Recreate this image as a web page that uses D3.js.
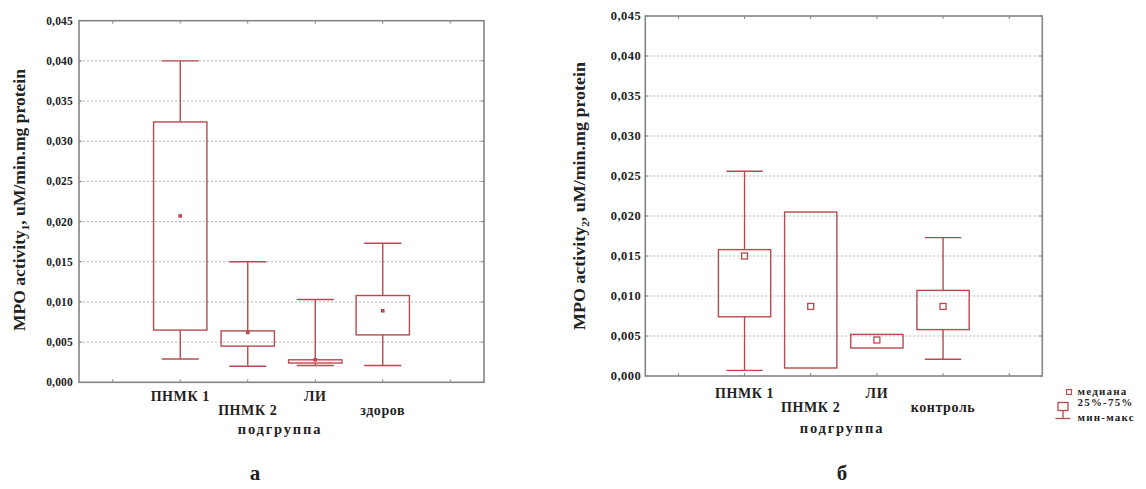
<!DOCTYPE html>
<html>
<head>
<meta charset="utf-8">
<script src="https://cdn.jsdelivr.net/npm/d3@7/dist/d3.min.js"></script>
<style>
  html, body { margin: 0; padding: 0; background: #fff; }
  svg { display: block; }
  text { font-family: "Liberation Serif", "Times New Roman", serif; font-weight: bold; fill: #222; }
</style>
</head>
<body>
<svg id="chart" width="1146" height="489"></svg>
<script>
// ---- Data ----
const yTicks = [0, 0.005, 0.010, 0.015, 0.020, 0.025, 0.030, 0.035, 0.040, 0.045];

const categoriesA = ["ПНМК 1", "ПНМК 2", "ЛИ", "здоров"];
const minA = [0.0029, 0.0020, 0.0021, 0.0021];
const q1A  = [0.0065, 0.0045, 0.0024, 0.0059];
const medA = [0.0207, 0.0062, 0.0028, 0.0089];
const q3A  = [0.0324, 0.0064, 0.0028, 0.0108];
const maxA = [0.0400, 0.0150, 0.0103, 0.0173];

const categoriesB = ["ПНМК 1", "ПНМК 2", "ЛИ", "контроль"];
const minB = [0.0007, 0.0010, 0.0035, 0.0021];
const q1B  = [0.0074, 0.0010, 0.0035, 0.0058];
const medB = [0.0150, 0.0087, 0.0045, 0.0087];
const q3B  = [0.0158, 0.0205, 0.0052, 0.0107];
const maxB = [0.0256, 0.0205, 0.0052, 0.0173];

const legendLabels = ["медиана", "25%-75%", "мин-макс"];

const BOX = "#b84a4f";
const FRAME = "#858585";
const GRID = "#b5b5b5";

const svg = d3.select("#chart");
const fmt = d => d3.format(".3f")(d).replace(".", ",");

function panel(o) {
  const g = svg.append("g");
  const slots = ["_s0"].concat(o.cats).concat(["_s5"]);
  const x = d3.scalePoint().domain(slots).range([o.left, o.right]).padding(0.5);
  const y = d3.scaleLinear().domain([0, 0.045]).range([o.bottom, o.top]);
  const step = x.step();

  // grid
  g.append("g").selectAll("line").data(yTicks.filter(t => t > 0 && t < 0.045)).join("line")
    .attr("x1", o.left).attr("x2", o.right)
    .attr("y1", d => y(d)).attr("y2", d => y(d))
    .attr("stroke", GRID).attr("stroke-width", 1).attr("stroke-dasharray", "2,2");

  // inner ticks
  const tk = g.append("g").attr("stroke", FRAME).attr("stroke-width", 1);
  tk.selectAll(".tb").data(slots).join("line")
    .attr("x1", d => x(d)).attr("x2", d => x(d)).attr("y1", o.bottom).attr("y2", o.bottom - 3);
  tk.selectAll(".tt").data(slots).join("line")
    .attr("x1", d => x(d)).attr("x2", d => x(d)).attr("y1", o.top).attr("y2", o.top + 3);
  tk.selectAll(".tl").data(yTicks).join("line")
    .attr("x1", o.left).attr("x2", o.left + 3).attr("y1", d => y(d)).attr("y2", d => y(d));
  tk.selectAll(".tr").data(yTicks).join("line")
    .attr("x1", o.right).attr("x2", o.right - 3).attr("y1", d => y(d)).attr("y2", d => y(d));

  // frame
  g.append("rect").attr("x", o.left).attr("y", o.top)
    .attr("width", o.right - o.left).attr("height", o.bottom - o.top)
    .attr("fill", "none").attr("stroke", FRAME).attr("stroke-width", 1.6);

  // y tick labels
  g.append("g").selectAll("text").data(yTicks).join("text")
    .attr("x", o.left - o.labGap).attr("y", d => y(d)).attr("dy", "0.35em")
    .attr("text-anchor", "end").attr("font-size", o.tickFont)
    .attr("letter-spacing", o.tickLS)
    .text(fmt);

  // boxes
  const boxW = step * 0.79, capW = step * 0.55;
  const bx = g.append("g").attr("stroke", BOX).attr("stroke-width", 1.4).attr("fill", "none");
  o.cats.forEach((c, i) => {
    const cx = x(c);
    if (o.max[i] > o.q3[i]) {
      bx.append("line").attr("x1", cx).attr("x2", cx).attr("y1", y(o.q3[i])).attr("y2", y(o.max[i]));
      bx.append("line").attr("x1", cx - capW / 2).attr("x2", cx + capW / 2).attr("y1", y(o.max[i])).attr("y2", y(o.max[i]));
    }
    if (o.min[i] < o.q1[i]) {
      bx.append("line").attr("x1", cx).attr("x2", cx).attr("y1", y(o.q1[i])).attr("y2", y(o.min[i]));
      bx.append("line").attr("x1", cx - capW / 2).attr("x2", cx + capW / 2).attr("y1", y(o.min[i])).attr("y2", y(o.min[i]));
    }
    bx.append("rect").attr("x", cx - boxW / 2).attr("y", y(o.q3[i]))
      .attr("width", boxW).attr("height", Math.max(1, y(o.q1[i]) - y(o.q3[i])));
    if (o.openMed) {
      bx.append("rect").attr("x", cx - 3).attr("y", y(o.med[i]) - 3).attr("width", 6).attr("height", 6)
        .attr("stroke-width", 1.3);
    } else {
      g.append("rect").attr("x", cx - 1.8).attr("y", y(o.med[i]) - 1.8).attr("width", 3.6).attr("height", 3.6)
        .attr("fill", BOX);
    }
  });

  // category labels, staggered
  g.append("g").selectAll("text").data(o.cats).join("text")
    .attr("x", d => x(d)).attr("y", (d, i) => i % 2 === 0 ? o.row1 : o.row2)
    .attr("text-anchor", "middle").attr("font-size", 14).attr("letter-spacing", 0.6)
    .text(d => d);

  // x title
  g.append("text").attr("x", o.xTitleX).attr("y", o.row3)
    .attr("text-anchor", "middle").attr("font-size", 14.5).attr("letter-spacing", 1.8)
    .text("подгруппа");

  // y title
  const yt = g.append("text")
    .attr("transform", `translate(${o.yTitleX},${o.yTitleY}) rotate(-90)`)
    .attr("text-anchor", "middle").attr("font-size", 16)
    .attr("textLength", o.yTitleLen).attr("lengthAdjust", "spacingAndGlyphs");
  yt.append("tspan").text("MPO activity");
  yt.append("tspan").attr("font-size", 10).attr("dy", 4).text(o.sub);
  yt.append("tspan").attr("dy", -4).text(", uM/min.mg protein");

  // panel letter
  g.append("text").attr("x", o.letterX).attr("y", 480)
    .attr("text-anchor", "middle").attr("font-size", 21).text(o.letter);

  return { x, y };
}

panel({
  cats: categoriesA, min: minA, q1: q1A, med: medA, q3: q3A, max: maxA,
  left: 79, right: 484, top: 20.7, bottom: 382.3,
  labGap: 6, tickFont: 11.5, tickLS: 0.2,
  row1: 401, row2: 415, row3: 434, xTitleX: 280,
  yTitleX: 25, yTitleY: 200, yTitleLen: 262, sub: "1",
  letterX: 255, letter: "а", openMed: false
});

panel({
  cats: categoriesB, min: minB, q1: q1B, med: medB, q3: q3B, max: maxB,
  left: 645.3, right: 1042.3, top: 16, bottom: 376,
  labGap: 4, tickFont: 12.5, tickLS: 0.5,
  row1: 398, row2: 412, row3: 433, xTitleX: 842,
  yTitleX: 585, yTitleY: 196, yTitleLen: 268, sub: "2",
  letterX: 842, letter: "б", openMed: true
});

// legend
const lg = svg.append("g");
lg.append("rect").attr("x", 1066.5).attr("y", 389.5).attr("width", 5).attr("height", 5)
  .attr("fill", "none").attr("stroke", BOX).attr("stroke-width", 1.2);
lg.append("rect").attr("x", 1058).attr("y", 402.5).attr("width", 10).attr("height", 8)
  .attr("fill", "none").attr("stroke", BOX).attr("stroke-width", 1.3);
lg.append("line").attr("x1", 1063).attr("x2", 1063).attr("y1", 410.5).attr("y2", 418.5)
  .attr("stroke", BOX).attr("stroke-width", 1.3);
lg.append("line").attr("x1", 1055.5).attr("x2", 1070.5).attr("y1", 418.5).attr("y2", 418.5)
  .attr("stroke", BOX).attr("stroke-width", 1.3);
lg.selectAll(".lt").data(legendLabels).join("text")
  .attr("x", 1077.5).attr("y", (d, i) => [395, 406, 421][i])
  .attr("font-size", 11).attr("letter-spacing", 1.2).attr("fill", "#333")
  .text(d => d);
</script>
</body>
</html>
